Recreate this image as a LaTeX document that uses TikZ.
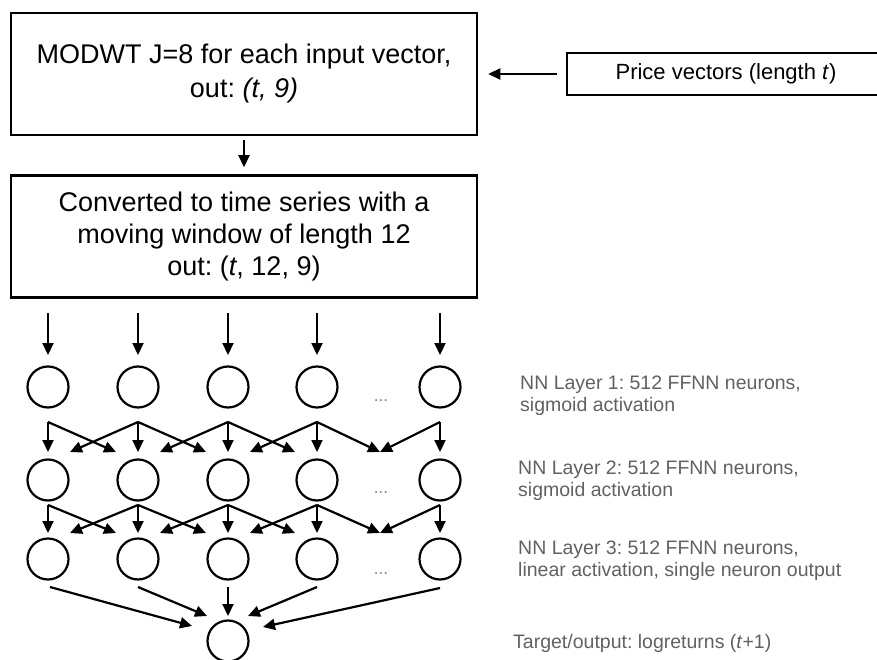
\documentclass[tikz,border=0pt]{standalone}
\usepackage{fontspec}
\setmainfont{Liberation Sans}
\usetikzlibrary{positioning, arrows.meta, calc}
\frenchspacing

\tikzset{
  box/.style = {draw, line width=2.5pt, minimum width=466pt, minimum height=122pt,
    align=center, font=\fontsize{27}{32}\selectfont},
  pricebox/.style = {draw, line width=2pt, minimum width=318pt, minimum height=42pt,
    font=\fontsize{22}{26}\selectfont},
  neuron/.style = {draw, circle, line width=2.2pt, minimum size=41pt, inner sep=0pt},
  arr/.style = {-{Triangle[length=12pt, width=11pt]}, line width=2.2pt},
  note/.style = {anchor=west, align=left, inner sep=0pt, text=black!62,
    font=\fontsize{19.5}{22}\selectfont},
  dots/.style = {text=black!50, font=\fontsize{17}{17}\selectfont},
}

\begin{document}
\begin{tikzpicture}[x=1pt, y=1pt, node distance = 38pt]
  \useasboundingbox (0,0) rectangle (877,-660);

  % preprocessing
  \node (modwt) [box, font=\fontsize{27}{34}\selectfont] at (244,-74)
    {MODWT J=8 for each input vector,\\out: \textit{(t, 9)}};
  \node (window) [box, below = of modwt]
    {Converted to time series with a\\moving window of length 12\\out: (\textit{t}, 12, 9)};
  \node (price) [pricebox] at (726,-74) {Price vectors (length \textit{t})};
  \draw [arr, shorten <=9pt, shorten >=10pt] (price) -- (modwt);
  \draw [arr, shorten <=4pt, shorten >=7pt] (modwt) -- (window);

  % network
  \foreach \x [count=\i] in {48,138,228,317,440} {
    \node (a\i) [neuron] at (\x,-387) {};
    \node (b\i) [neuron] at (\x,-480) {};
    \node (c\i) [neuron] at (\x,-559) {};
    \draw [arr] ([yshift=74pt]a\i.center) -- ([yshift=32pt]a\i.center);
  }
  \node (out) [neuron] at (228,-641) {};
  \node (dots1) [dots] at (381,-401) {...};
  \node (dots2) [dots] at (381,-493) {...};
  \node (dots3) [dots] at (381,-574) {...};
  \coordinate (gapb) at (380,-452);
  \coordinate (gapc) at (380,-533);

  \foreach \i in {1,...,5} {
    \draw [arr] ([yshift=-35pt]a\i.center) -- ([yshift=28pt]b\i.center);
    \draw [arr] ([yshift=-25pt]b\i.center) -- ([yshift=26pt]c\i.center);
  }
  \foreach \i/\j in {1/2, 2/3, 3/4} {
    \draw [arr] ([yshift=-35pt]a\i.center) -- ([xshift=-22pt, yshift=28pt]b\j.center);
    \draw [arr] ([yshift=-35pt]a\j.center) -- ([xshift=22pt, yshift=28pt]b\i.center);
    \draw [arr] ([yshift=-25pt]b\i.center) -- ([xshift=-22pt, yshift=26pt]c\j.center);
    \draw [arr] ([yshift=-25pt]b\j.center) -- ([xshift=22pt, yshift=26pt]c\i.center);
  }
  \draw [arr] ([yshift=-35pt]a4.center) -- (gapb);
  \draw [arr] ([yshift=-35pt]a5.center) -- (gapb);
  \draw [arr] ([yshift=-25pt]b4.center) -- (gapc);
  \draw [arr] ([yshift=-25pt]b5.center) -- (gapc);

  \draw [arr] ([xshift=2pt, yshift=-28pt]c1.center) -- ([xshift=-36pt, yshift=15pt]out.center);
  \draw [arr] ([yshift=-28pt]c2.center) -- ([xshift=-21pt, yshift=25pt]out.center);
  \draw [arr] ([yshift=-28pt]c3.center) -- ([yshift=25pt]out.center);
  \draw [arr] ([yshift=-28pt]c4.center) -- ([xshift=20pt, yshift=25pt]out.center);
  \draw [arr] ([yshift=-29pt]c5.center) -- ([xshift=35pt, yshift=14pt]out.center);

  % layer descriptions
  \node (note1) [note] at (520,-396) {NN Layer 1: 512 FFNN neurons,\\sigmoid activation};
  \node (note2) [note] at (518,-481) {NN Layer 2: 512 FFNN neurons,\\sigmoid activation};
  \node (note3) [note] at (518,-561) {NN Layer 3: 512 FFNN neurons,\\linear activation, single neuron output};
  \node (target) [note] at (513,-643) {Target/output: logreturns (\textit{t}+1)};
\end{tikzpicture}
\end{document}
